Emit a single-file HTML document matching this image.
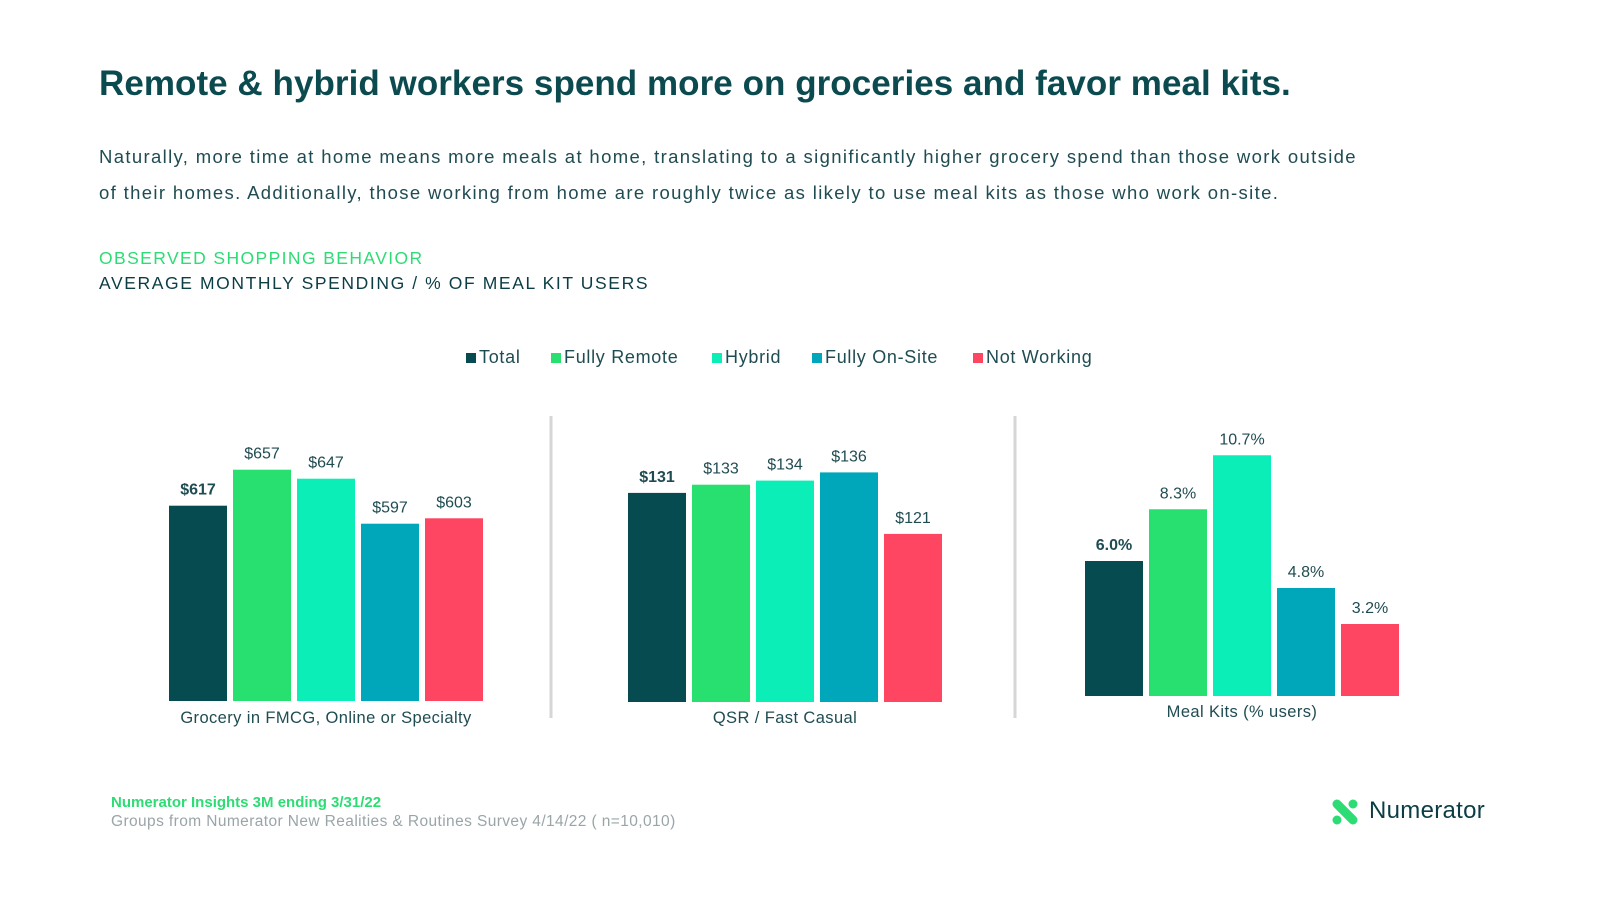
<!DOCTYPE html>
<html><head><meta charset="utf-8"><style>
body{margin:0;width:1600px;height:900px;background:#fff;font-family:"Liberation Sans",sans-serif;overflow:hidden;position:relative}
.t{position:absolute;margin:0;white-space:nowrap}
</style></head><body>
<h1 class="t" style="left:99px;top:64px;font-size:35px;font-weight:bold;color:#0b4a4f;letter-spacing:0.05px">Remote &amp; hybrid workers spend more on groceries and favor meal kits.</h1>
<p class="t" style="left:99px;top:139px;font-size:18.5px;line-height:36px;color:#1f4c52;letter-spacing:1.35px">Naturally, more time at home means more meals at home, translating to a significantly higher grocery spend than those work outside<br>of their homes. Additionally, those working from home are roughly twice as likely to use meal kits as those who work on-site.</p>
<div class="t" style="left:99px;top:248px;font-size:17.5px;color:#2ddc74;letter-spacing:1.4px">OBSERVED SHOPPING BEHAVIOR</div>
<div class="t" style="left:99px;top:273px;font-size:17.5px;color:#0b3d44;letter-spacing:1.6px">AVERAGE MONTHLY SPENDING / % OF MEAL KIT USERS</div>
<svg id="chart" width="1600" height="900" style="position:absolute;left:0;top:0"></svg>
<div class="t" style="left:111px;top:794px;font-size:15px;font-weight:bold;color:#2ddc74">Numerator Insights 3M ending 3/31/22</div>
<div class="t" style="left:111px;top:813px;font-size:15.5px;color:#9aa5a8;letter-spacing:0.4px">Groups from Numerator New Realities &amp; Routines Survey 4/14/22 ( n=10,010)</div>
<div class="t" style="left:1330px;top:797px;height:32px">
<svg width="30" height="30" style="position:absolute;left:0;top:0"><path d="M7 7 L23 23" stroke="#2ddc74" stroke-width="9" stroke-linecap="round"/><circle cx="23" cy="7" r="4.5" fill="#2ddc74"/><circle cx="7" cy="23" r="4.5" fill="#2ddc74"/></svg>
<span style="position:absolute;left:39px;top:0px;font-size:24px;color:#0b3d44;letter-spacing:0.3px">Numerator</span></div>
<script>
const series=["Total","Fully Remote","Hybrid","Fully On-Site","Not Working"];
const colors=["#064b50","#27e070","#0ceeb8","#00a7bb","#fe4561"];
const categories=["Grocery in FMCG, Online or Specialty","QSR / Fast Casual","Meal Kits (% users)"];
const groceryValues=[617,657,647,597,603];
const qsrValues=[131,133,134,136,121];
const mealKitValues=[6.0,8.3,10.7,4.8,3.2];
const groceryLabels=["$617","$657","$647","$597","$603"];
const qsrLabels=["$131","$133","$134","$136","$121"];
const mealKitLabels=["6.0%","8.3%","10.7%","4.8%","3.2%"];
const ns="http://www.w3.org/2000/svg";
const svg=document.getElementById("chart");
function mk(t,a){const e=document.createElementNS(ns,t);for(const k in a)e.setAttribute(k,a[k]);svg.appendChild(e);return e;}
const panels=[
 {vals:groceryValues,labs:groceryLabels,x0:169,base:701,min:400,pxPer:0.9,catY:723},
 {vals:qsrValues,labs:qsrLabels,x0:628,base:702,min:80,pxPer:4.1,catY:723},
 {vals:mealKitValues,labs:mealKitLabels,x0:1085,base:696,min:0,pxPer:22.5,catY:717}
];
panels.forEach((p,pi)=>{
 const y=v=>p.base-(v-p.min)*p.pxPer;
 p.vals.forEach((v,i)=>{
  const x=p.x0+i*64;
  const r=mk("rect",{x:x,y:y(v),width:58,height:p.base-y(v),fill:colors[i]});
  
  
  const t=mk("text",{x:x+29,y:y(v)-11,"text-anchor":"middle","font-size":16,fill:"#1f4c52","font-weight":i==0?"bold":"normal","font-family":"Liberation Sans, sans-serif"});
  t.textContent=p.labs[i];
  
  
 });
 const c=mk("text",{x:p.x0+157,y:p.catY,"text-anchor":"middle","font-size":16.5,fill:"#1f4c52","letter-spacing":"0.4","font-family":"Liberation Sans, sans-serif"});
 c.textContent=categories[pi];
 
 
});
[551,1015].forEach(x=>{const l=mk("line",{x1:x,x2:x,y1:416,y2:718,stroke:"#d6d6d6","stroke-width":3});
 
 });
const legX=[466,551,712,812,973];
series.forEach((s,i)=>{
 const r=mk("rect",{x:legX[i],y:353,width:10,height:10,fill:colors[i]});
 
 
 const t=mk("text",{x:legX[i]+13,y:363,"font-size":18,fill:"#1f4c52","letter-spacing":"0.7","font-family":"Liberation Sans, sans-serif"});
 t.textContent=s;
 
 
});
</script>
</body></html>
